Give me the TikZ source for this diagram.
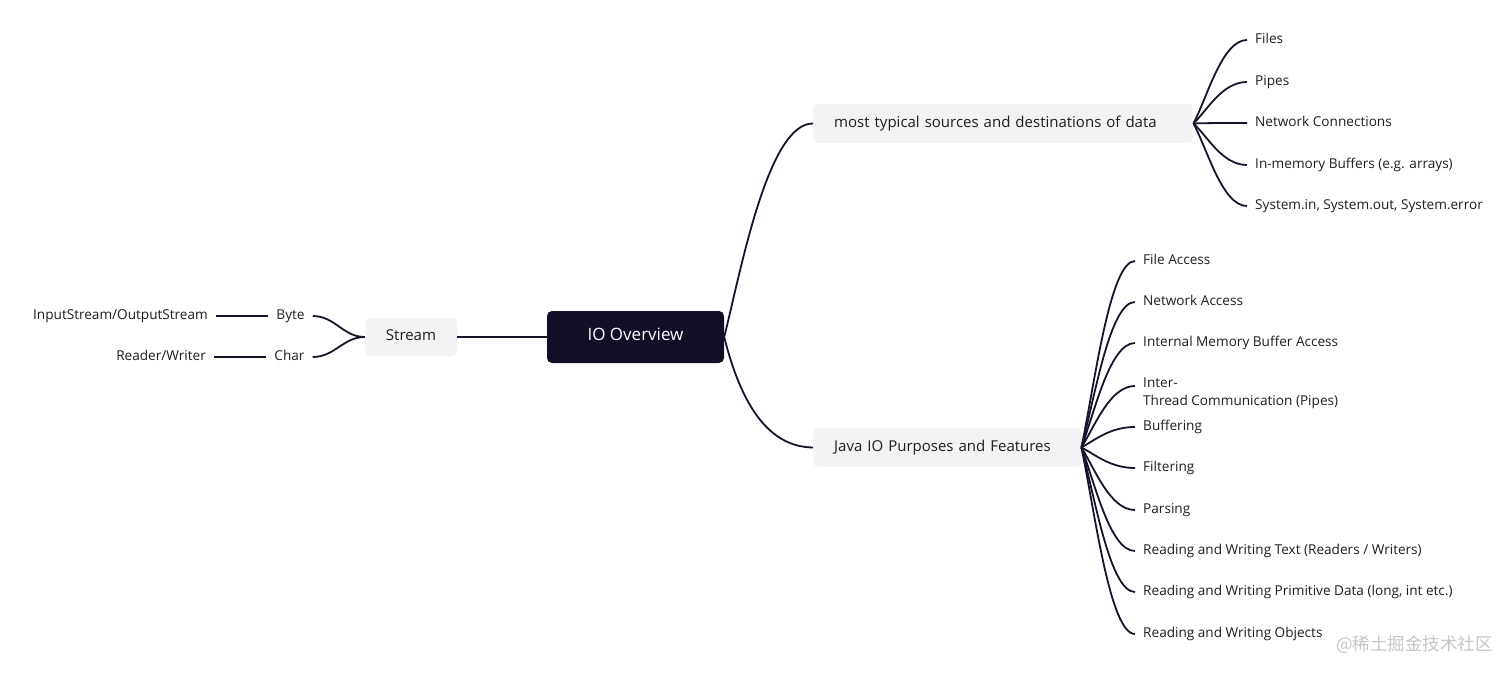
\documentclass[tikz,border=0pt]{standalone}
\usepackage{fontspec}
\setmainfont{Open Sans}
\newfontfamily\cjk{Noto Sans CJK SC}
\usetikzlibrary{calc}
\definecolor{ink}{HTML}{15142A}
\definecolor{rootfill}{HTML}{110F26}
\definecolor{boxfill}{HTML}{F3F3F5}
\definecolor{txt}{HTML}{1E1E1E}
\begin{document}
\begin{tikzpicture}[x=1pt,y=-1pt,
  conn/.style={draw=ink,line width=1.8pt},
  rootbox/.style={fill=rootfill,rounded corners=5pt,text=white,font=\fontsize{17}{20}\selectfont,minimum width=177pt,minimum height=52pt,inner sep=0pt,text height=0.74em,text depth=0pt},
  midbox/.style={fill=boxfill,rounded corners=5pt,text=txt,font=\fontsize{15}{18}\selectfont,minimum height=39pt,inner xsep=21pt,inner ysep=0pt,text height=0.78em,text depth=0pt},
  leaf/.style={text=txt,font=\fontsize{13.6}{18}\selectfont,inner xsep=8pt,inner ysep=0pt,align=left,text height=0.72em,text depth=0pt}
]
\useasboundingbox (0,0) rectangle (1512,676);

% main nodes
\node[rootbox] (root) at (635.5,337) {IO Overview};
\node[midbox,minimum width=92pt,minimum height=38pt,inner xsep=0pt] (stream) at (411,337) {Stream};
\node[midbox,anchor=west,text width=338pt] (src) at (813,123.5) {most typical sources and destinations of data};
\node[midbox,anchor=west,text width=226pt] (jio) at (813,447.5) {Java IO Purposes and Features};

% stream side
\node[leaf] (byte) at (290.5,316) {Byte};
\node[leaf] (char) at (289.5,357) {Char};
\node[leaf,anchor=east] (isos) at (216,316) {InputStream/OutputStream};
\node[leaf,anchor=east] (rw) at (214,357) {Reader/Writer};

\draw[conn] (root.west) -- (stream.east);
\draw[conn] (stream.west) .. controls (343,337) and (335,316) .. (byte.east);
\draw[conn] (stream.west) .. controls (343,337) and (335,357) .. (char.east);
\draw[conn] (byte.west) -- (isos.east);
\draw[conn] (char.west) -- (rw.east);

% root to mids
\draw[conn] (root.east) .. controls (741,270) and (768,123) .. (src.west);
\draw[conn] (root.east) .. controls (741,404) and (768,447) .. (jio.west);

% sources leaves
\node[leaf,anchor=west] (s1) at (1247,40) {Files};
\node[leaf,anchor=west] (s2) at (1247,82) {Pipes};
\node[leaf,anchor=west] (s3) at (1247,123) {Network Connections};
\node[leaf,anchor=west] (s4) at (1247,165) {In-memory Buffers (e.g. arrays)};
\node[leaf,anchor=west] (s5) at (1247,206) {System.in, System.out, System.error};
\foreach \n/\y in {s1/40,s2/82,s3/123,s4/165,s5/206}{
  \draw[conn] (src.east) .. controls ({1207},{123+(\y-123)*0.3}) and ({1222},{\y}) .. (\n.west);
}

% java leaves
\node[leaf,anchor=west] (j1) at (1135,261) {File Access};
\node[leaf,anchor=west] (j2) at (1135,302) {Network Access};
\node[leaf,anchor=west] (j3) at (1135,343) {Internal Memory Buffer Access};
\node[leaf,anchor=north west,text height=,text depth=,inner ysep=2pt] (j4) at (1135,376) {Inter-\\Thread Communication (Pipes)};
\node[leaf,anchor=west] (j5) at (1135,427) {Buffering};
\node[leaf,anchor=west] (j6) at (1135,468) {Filtering};
\node[leaf,anchor=west] (j7) at (1135,510) {Parsing};
\node[leaf,anchor=west] (j8) at (1135,551) {Reading and Writing Text (Readers / Writers)};
\node[leaf,anchor=west] (j9) at (1135,592) {Reading and Writing Primitive Data (long, int etc.)};
\node[leaf,anchor=west] (j10) at (1135,634) {Reading and Writing Objects};
\foreach \n/\y in {j1/261,j2/302,j3/343,j5/427,j6/468,j7/510,j8/551,j9/592,j10/634}{
  \draw[conn] (jio.east) .. controls ({1095},{447+(\y-447)*0.35}) and ({1110},{\y}) .. (\n.west);
}
\draw[conn] (jio.east) .. controls ({1095},{447+(386-447)*0.35}) and ({1110},{386}) .. ($(j4.north west)+(0,10)$);

% watermark
\node[font=\cjk\fontsize{17.5}{20}\selectfont,text=gray!45,anchor=east,inner sep=0pt] (wm) at (1493,645) {@稀土掘金技术社区};
\end{tikzpicture}
\end{document}
